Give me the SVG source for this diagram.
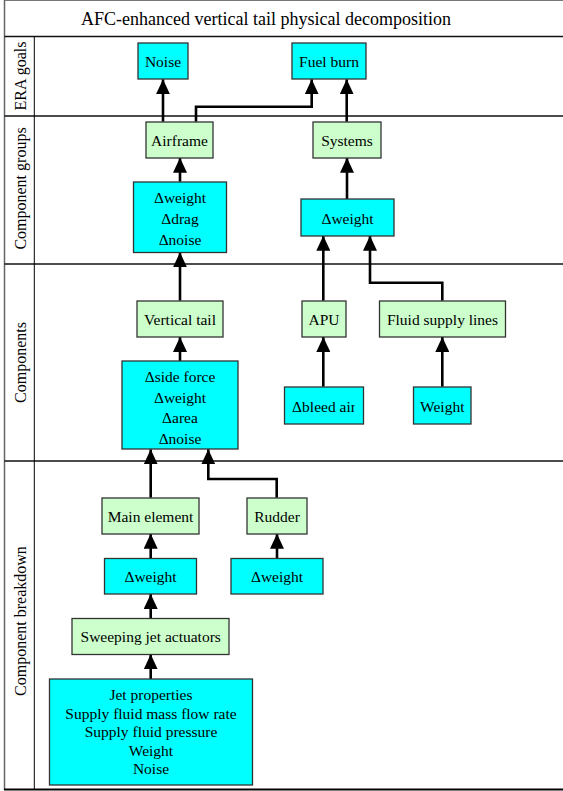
<svg xmlns="http://www.w3.org/2000/svg" width="563" height="791" viewBox="0 0 563 791">
<style>
  text { font-family: "Liberation Serif", "Times New Roman", serif; fill: #000; }
  .title { font-size: 18px; text-anchor: middle; }
  .lane { font-size: 16px; text-anchor: middle; }
  .t { font-size: 15.5px; text-anchor: middle; }
  .cyan { fill: #00FFFF; stroke: #333; stroke-width: 1.3; }
  .green { fill: #CCFFCC; stroke: #333; stroke-width: 1.3; }
  .grid { stroke: #111; stroke-width: 1.5; fill: none; }
  .conn { stroke: #000; stroke-width: 2.6; fill: none; marker-end: url(#arrow); }
</style>
<defs>
  <marker id="arrow" markerUnits="userSpaceOnUse" markerWidth="15" markerHeight="14" refX="15" refY="7" orient="auto">
    <path d="M0,0 L15,7 L0,14 z" fill="#000"/>
  </marker>
  <clipPath id="clipBleed"><rect x="284.5" y="387" width="70" height="37"/></clipPath>
</defs>
<rect width="563" height="791" fill="#fff"/>

<g id="frame">
  <line x1="4.5" y1="0.5" x2="563" y2="0.5" stroke="#777" stroke-width="1.2"/>
  <line x1="4.5" y1="0" x2="4.5" y2="790" stroke="#666" stroke-width="1.5"/>
  <line x1="4" y1="789.5" x2="563" y2="789.5" stroke="#000" stroke-width="2"/>
  <line class="grid" x1="4.5" y1="36.5" x2="563" y2="36.5"/>
  <line class="grid" x1="4.5" y1="116" x2="563" y2="116"/>
  <line class="grid" x1="4.5" y1="264" x2="563" y2="264"/>
  <line class="grid" x1="4.5" y1="461" x2="563" y2="461"/>
  <line x1="34.3" y1="36.5" x2="34.3" y2="789" stroke="#000" stroke-width="1"/>
  <text class="title" x="266" y="25">AFC-enhanced vertical tail physical decomposition</text>
  <text class="lane" transform="translate(26,76) rotate(-90)">ERA goals</text>
  <text class="lane" transform="translate(26,188.5) rotate(-90)">Component groups</text>
  <text class="lane" transform="translate(26,362.5) rotate(-90)">Components</text>
  <text class="lane" transform="translate(26,621) rotate(-90)">Component breakdown</text>
</g>

<g id="connectors">
  <path class="conn" d="M163,121.7 V79.3"/>
  <path class="conn" d="M196,121.7 V106.7 H311.7 V79.3"/>
  <path class="conn" d="M346.7,121.7 V79.3"/>
  <path class="conn" d="M180,181.7 V157.7"/>
  <path class="conn" d="M347,199 V157.7"/>
  <path class="conn" d="M180,300.7 V252.3"/>
  <path class="conn" d="M323.3,300.7 V235.7"/>
  <path class="conn" d="M442.3,300.7 V282.7 H370 V235.7"/>
  <path class="conn" d="M180,361 V337"/>
  <path class="conn" d="M323.3,386.7 V337"/>
  <path class="conn" d="M442.3,386.7 V337"/>
  <path class="conn" d="M150.7,497.7 V449.3"/>
  <path class="conn" d="M276.7,497.7 V479 H208.3 V449.3"/>
  <path class="conn" d="M150.7,558.3 V533.7"/>
  <path class="conn" d="M277,558.3 V533.7"/>
  <path class="conn" d="M150.7,618.3 V594"/>
  <path class="conn" d="M150.7,679 V654.3"/>
</g>

<g id="noise"><rect class="cyan" x="138" y="43" width="50" height="36"/><text class="t" x="163" y="67">Noise</text></g>
<g id="fuelburn"><rect class="cyan" x="292" y="43" width="74" height="36"/><text class="t" x="329" y="67">Fuel burn</text></g>
<g id="airframe"><rect class="green" x="146" y="122" width="67" height="36"/><text class="t" x="179.5" y="145.7">Airframe</text></g>
<g id="systems"><rect class="green" x="313" y="122" width="68" height="36"/><text class="t" x="347" y="145.7">Systems</text></g>
<g id="airframe-deltas"><rect class="cyan" x="133.5" y="182" width="93" height="70.5"/>
  <text class="t" x="180" y="203.3">Δweight</text>
  <text class="t" x="180" y="224.3">Δdrag</text>
  <text class="t" x="180" y="245">Δnoise</text></g>
<g id="systems-delta"><rect class="cyan" x="301" y="199" width="93" height="37"/><text class="t" x="347.5" y="223.5">Δweight</text></g>
<g id="verticaltail"><rect class="green" x="137" y="301" width="86" height="36"/><text class="t" x="180" y="325">Vertical tail</text></g>
<g id="apu"><rect class="green" x="302" y="301" width="44" height="36"/><text class="t" x="324" y="325">APU</text></g>
<g id="fluidlines"><rect class="green" x="379.5" y="301" width="126" height="36"/><text class="t" x="442.5" y="325">Fluid supply lines</text></g>
<g id="tail-deltas"><rect class="cyan" x="122" y="361" width="116" height="88"/>
  <text class="t" x="180" y="381.7">Δside force</text>
  <text class="t" x="180" y="402.7">Δweight</text>
  <text class="t" x="180" y="423.3">Δarea</text>
  <text class="t" x="180" y="444">Δnoise</text></g>
<g id="bleedair"><rect class="cyan" x="284.5" y="387" width="79" height="37"/><text class="t" x="324" y="411.6" clip-path="url(#clipBleed)">Δbleed air</text></g>
<g id="weight"><rect class="cyan" x="413.5" y="387" width="57.5" height="37"/><text class="t" x="442.3" y="411.6">Weight</text></g>
<g id="mainelement"><rect class="green" x="102" y="498" width="97" height="36"/><text class="t" x="150.5" y="521.7">Main element</text></g>
<g id="rudder"><rect class="green" x="247" y="498" width="60" height="36"/><text class="t" x="277" y="521.7">Rudder</text></g>
<g id="main-delta"><rect class="cyan" x="104.5" y="558.5" width="92" height="35.5"/><text class="t" x="150.5" y="582">Δweight</text></g>
<g id="rudder-delta"><rect class="cyan" x="231" y="558.5" width="92" height="35.5"/><text class="t" x="277" y="582">Δweight</text></g>
<g id="sweepingjets"><rect class="green" x="72" y="618.5" width="157" height="36"/><text class="t" x="150.7" y="642.4">Sweeping jet actuators</text></g>
<g id="jetprops"><rect class="cyan" x="49.5" y="679" width="203" height="106"/>
  <text class="t" x="151" y="700">Jet properties</text>
  <text class="t" x="151" y="718.5">Supply fluid mass flow rate</text>
  <text class="t" x="151" y="737">Supply fluid pressure</text>
  <text class="t" x="151" y="755.5">Weight</text>
  <text class="t" x="151" y="774">Noise</text></g>
</svg>
